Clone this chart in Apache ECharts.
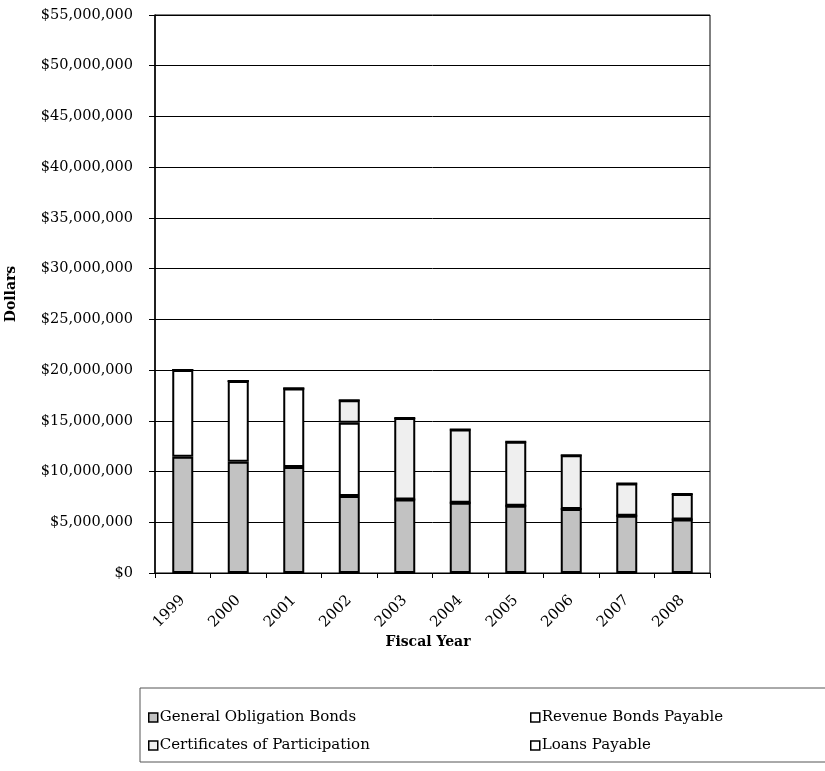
<!DOCTYPE html>
<html><head><meta charset="utf-8">
<script src="https://cdn.jsdelivr.net/npm/echarts@6/dist/echarts.min.js"></script>
<style>html,body{margin:0;padding:0;background:#fff}#c{width:825px;height:771px}</style>
</head><body><div id="c"></div>
<script>
var years = ['1999','2000','2001','2002','2003','2004','2005','2006','2007','2008'];
var generalObligation = [11450000,10960000,10460000,7580000,7250000,6920000,6630000,6300000,5640000,5280000];
var revenueBonds = [8550000,7970000,7720000,7220000,0,0,0,0,0,0];
var certificates = [0,0,0,2230000,8040000,7220000,6300000,5310000,3190000,2500000];
var loans = [0,0,0,0,0,0,0,0,0,0];
var seriesNames = ['General Obligation Bonds','Revenue Bonds Payable','Certificates of Participation','Loans Payable'];

var font = 'DejaVu Serif';
var chart = echarts.init(document.getElementById('c'));
function bar(name, data, color){
  return {name:name,type:'bar',stack:'t',data:data,barWidth:21,
    itemStyle:{color:color,borderColor:'#000',borderWidth:2},emphasis:{disabled:true}};
}
chart.setOption({
  animation:false,
  textStyle:{fontFamily:font,color:'#000'},
  grid:{left:155,right:115,top:15,bottom:198,outerBoundsMode:'none',containLabel:false,
    show:true,borderColor:'#000',borderWidth:1,backgroundColor:'transparent'},
  xAxis:{type:'category',data:years,
    axisLine:{lineStyle:{color:'#000',width:1}},
    axisTick:{show:true,length:5,lineStyle:{color:'#000'}},
    axisLabel:{rotate:45,fontSize:15,color:'#000',fontFamily:font,margin:25}},
  yAxis:{type:'value',min:0,max:55000000,interval:5000000,
    axisLine:{show:true,lineStyle:{color:'#000',width:1.5}},
    axisTick:{show:true,length:6,lineStyle:{color:'#000'}},
    splitLine:{show:true,lineStyle:{color:'#000',width:1}},
    axisLabel:{fontSize:14.5,color:'#000',fontFamily:font,margin:22,
      formatter:function(v){return '$'+v.toLocaleString('en-US');}},
    name:'Dollars',nameLocation:'middle',nameRotate:90,nameGap:137,
    nameTextStyle:{fontSize:14,fontWeight:'bold',fontFamily:font,color:'#000'}},
  legend:[
    {data:[seriesNames[0],seriesNames[2]],orient:'vertical',left:143,top:705,itemGap:13,
     icon:'rect',itemWidth:9,itemHeight:9,
     textStyle:{fontSize:15,fontFamily:font,color:'#000',padding:[0,0,0,-3]},
     itemStyle:{borderColor:'#000',borderWidth:1.5}},
    {data:[seriesNames[1],seriesNames[3]],orient:'vertical',left:525,top:705,itemGap:13,
     icon:'rect',itemWidth:9,itemHeight:9,
     textStyle:{fontSize:15,fontFamily:font,color:'#000',padding:[0,0,0,-3]},
     itemStyle:{borderColor:'#000',borderWidth:1.5}}
  ],
  graphic:[
    {type:'rect',shape:{x:140,y:688,width:700,height:74},
     style:{fill:'none',stroke:'#555',lineWidth:1},silent:true},
    {type:'text',x:428,y:642,silent:true,
     style:{text:'Fiscal Year',fontSize:14,fontWeight:'bold',fontFamily:font,fill:'#000',
       textAlign:'center',textVerticalAlign:'middle'}}
  ],
  series:[
    bar(seriesNames[0],generalObligation,'#c2c2c2'),
    bar(seriesNames[1],revenueBonds,'#ffffff'),
    bar(seriesNames[2],certificates,'#efefef'),
    bar(seriesNames[3],loans,'#ffffff')
  ]
});
</script></body></html>
